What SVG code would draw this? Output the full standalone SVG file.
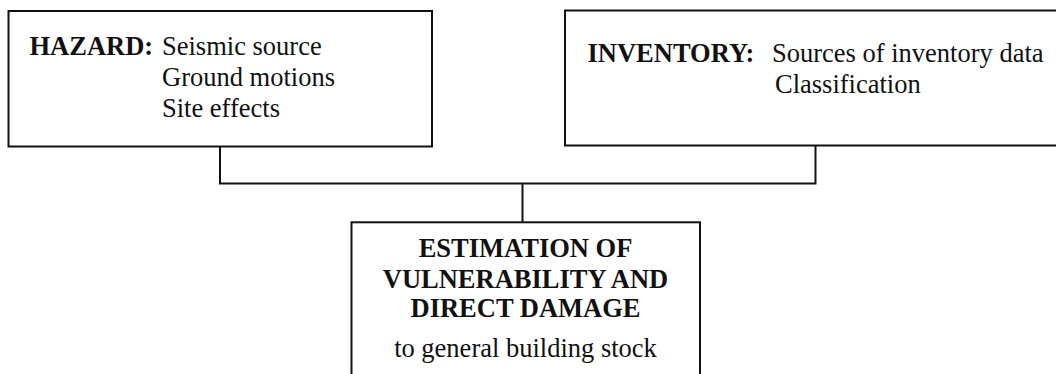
<svg xmlns="http://www.w3.org/2000/svg" width="1056" height="374" viewBox="0 0 1056 374">
  <style>
    .box { fill: #ffffff; stroke: #111111; stroke-width: 2; }
    .wire { fill: none; stroke: #111111; stroke-width: 2; }
    text { font-family: 'Liberation Serif', 'Times New Roman', Times, serif; font-size: 26.5px; fill: #111111; }
    .b { font-weight: bold; }
  </style>
  <rect width="1056" height="374" fill="#ffffff"/>

  <!-- connectors: two upper boxes joined by a bus feeding the lower box -->
  <g id="connectors">
    <path class="wire" d="M220 147 V183.5 H815.5 V146"/>
    <path class="wire" d="M522.5 183.5 V222"/>
  </g>

  <g id="hazard">
    <rect class="box" x="8.5" y="11" width="423.5" height="135.5"/>
    <text class="b" x="29.5" y="54.5">HAZARD:</text>
    <text x="162" y="54.5">Seismic source</text>
    <text x="162" y="85.5">Ground motions</text>
    <text x="162" y="116.5">Site effects</text>
  </g>

  <g id="inventory">
    <!-- right side runs past the page edge -->
    <rect class="box" x="565" y="10.5" width="500" height="135"/>
    <text class="b" x="587.5" y="61.5">INVENTORY:</text>
    <text x="772" y="61.5">Sources of inventory data</text>
    <text x="775" y="93">Classification</text>
  </g>

  <g id="estimation">
    <!-- lower edge runs past the page edge -->
    <rect class="box" x="351.5" y="222.3" width="348.5" height="170"/>
    <text class="b" x="525.5" y="256.7" text-anchor="middle">ESTIMATION OF</text>
    <text class="b" x="525.5" y="288" text-anchor="middle">VULNERABILITY AND</text>
    <text class="b" x="525.5" y="317.3" text-anchor="middle">DIRECT DAMAGE</text>
    <text x="525.5" y="356.7" text-anchor="middle">to general building stock</text>
  </g>
</svg>
